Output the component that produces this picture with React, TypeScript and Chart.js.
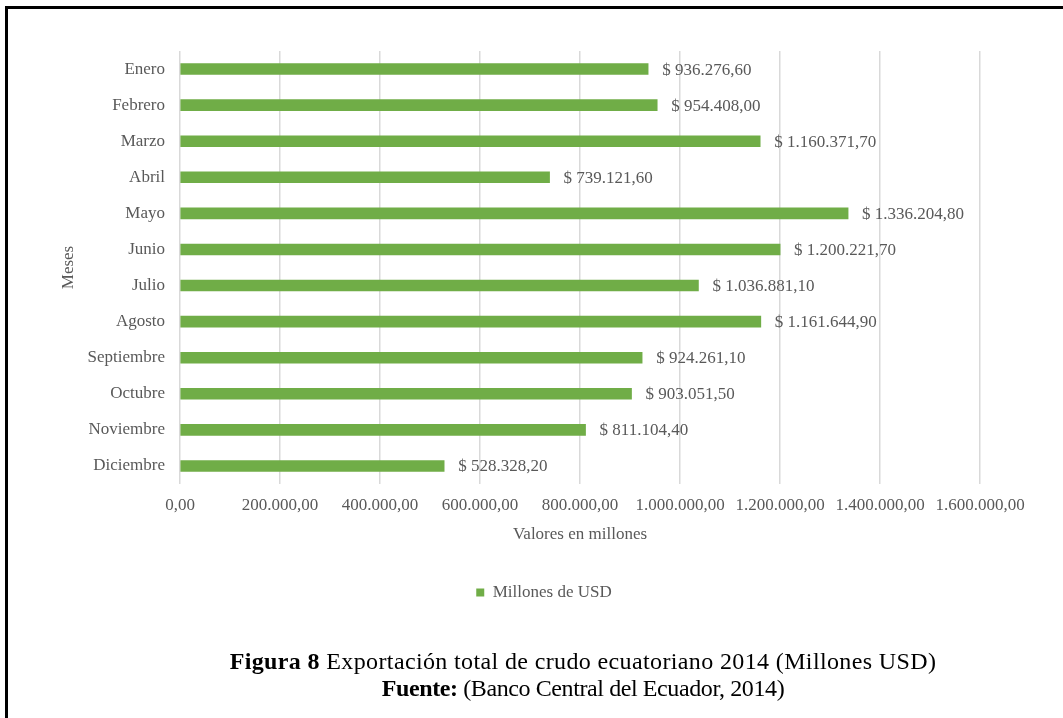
import React, { useEffect, useRef } from "react";
import { Chart, registerables } from "chart.js";

Chart.register(...registerables);

// ---- Data ----
const months: string[] = [
  "Enero",
  "Febrero",
  "Marzo",
  "Abril",
  "Mayo",
  "Junio",
  "Julio",
  "Agosto",
  "Septiembre",
  "Octubre",
  "Noviembre",
  "Diciembre",
];

const exportValues: number[] = [
  936276.6, 954408.0, 1160371.7, 739121.6, 1336204.8, 1200221.7, 1036881.1,
  1161644.9, 924261.1, 903051.5, 811104.4, 528328.2,
];

const seriesName = "Millones de USD";
const xAxisTitle = "Valores en millones";
const yAxisTitle = "Meses";
const xMin = 0;
const xMax = 1600000;
const xStep = 200000;

const captionBold1 = "Figura 8";
const captionText1 = " Exportación total de crudo ecuatoriano 2014 (Millones USD)";
const captionBold2 = "Fuente:";
const captionText2 = " (Banco Central del Ecuador, 2014)";

// ---- Styles ----
const SERIF = '"Liberation Serif", "Times New Roman", Times, serif';
const TEXT = "#595959";
const GREEN = "#70AD47";
const GRID = "#d9d9d9";

function fmt(v: number): string {
  const fixed = Math.abs(v).toFixed(2);
  const [intPart, dec] = fixed.split(".");
  const withDots = intPart.replace(/\B(?=(\d{3})+(?!\d))/g, ".");
  return (v < 0 ? "-" : "") + withDots + "," + dec;
}

const valueLabelPlugin = {
  id: "valueLabels",
  afterDatasetsDraw(chart: any) {
    const ctx = chart.ctx;
    const meta = chart.getDatasetMeta(0);
    const data = chart.data.datasets[0].data as number[];
    ctx.save();
    ctx.font = `17px ${SERIF}`;
    ctx.fillStyle = TEXT;
    ctx.textAlign = "left";
    ctx.textBaseline = "middle";
    meta.data.forEach((el: any, i: number) => {
      ctx.fillText("$ " + fmt(data[i]), el.x + 14, el.y + 1);
    });
    ctx.restore();
  },
};

const legendShiftPlugin = {
  id: "legendShift",
  afterLayout(chart: any) {
    const lg = chart.legend;
    if (lg) {
      lg.left += 54;
      lg.right += 54;
    }
  },
};

export default function App() {
  const canvasRef = useRef<HTMLCanvasElement | null>(null);

  useEffect(() => {
    if (!canvasRef.current) return;
    const font = { family: SERIF, size: 17 };
    const chart = new Chart(canvasRef.current, {
      type: "bar",
      data: {
        labels: months,
        datasets: [
          {
            label: seriesName,
            data: exportValues,
            backgroundColor: GREEN,
            borderWidth: 0,
            barThickness: 11,
          },
        ],
      },
      options: {
        indexAxis: "y",
        animation: false,
        responsive: false,
        maintainAspectRatio: false,
        devicePixelRatio: 1,
        layout: { padding: { left: 0, right: 83, top: 51, bottom: 0 } },
        scales: {
          x: {
            type: "linear",
            min: xMin,
            max: xMax,
            ticks: {
              stepSize: xStep,
              color: TEXT,
              font,
              padding: 11,
              maxRotation: 0,
              autoSkip: false,
              callback: (v: any) => fmt(Number(v)),
            },
            grid: { color: GRID, lineWidth: 1.5, drawTicks: false },
            border: { display: false },
            title: {
              display: true,
              text: xAxisTitle,
              color: TEXT,
              font,
              padding: { top: 0, bottom: 29 },
            },
            afterFit: (s: any) => {
              s.height = 90;
            },
          },
          y: {
            ticks: { color: TEXT, font, padding: 15, autoSkip: false },
            grid: { display: false, drawTicks: false },
            border: { display: false },
            title: {
              display: true,
              text: yAxisTitle,
              color: TEXT,
              font,
              padding: { top: 58, bottom: 0 },
            },
            afterFit: (s: any) => {
              s.width = 180;
            },
          },
        },
        plugins: {
          legend: {
            position: "bottom",
            labels: {
              boxWidth: 8,
              boxHeight: 8,
              color: TEXT,
              font,
              padding: 10,
            },
          },
          tooltip: { enabled: false },
        },
      } as any,
      plugins: [valueLabelPlugin, legendShiftPlugin],
    });
    return () => chart.destroy();
  }, []);

  return (
    <div
      style={{
        position: "absolute",
        left: 0,
        top: 0,
        width: 1063,
        height: 718,
        overflow: "hidden",
        background: "#fff",
      }}
    >
      <canvas
        ref={canvasRef}
        width={1063}
        height={611}
        style={{ position: "absolute", left: 0, top: 0, width: 1063, height: 611 }}
      />
      <div
        style={{
          position: "absolute",
          left: 5,
          top: 6,
          right: 0,
          bottom: 0,
          borderLeft: "3px solid #000",
          borderTop: "3px solid #000",
          pointerEvents: "none",
        }}
      />
      <div
        style={{
          position: "absolute",
          left: 183,
          top: 648,
          width: 800,
          textAlign: "center",
          fontFamily: SERIF,
          fontSize: 24,
          lineHeight: "27px",
          color: "#000",
          whiteSpace: "nowrap",
        }}
      >
        <div style={{ letterSpacing: "0.37px" }}>
          <b>{captionBold1}</b>
          {captionText1}
        </div>
        <div style={{ letterSpacing: "-0.4px" }}>
          <b>{captionBold2}</b>
          {captionText2}
        </div>
      </div>
    </div>
  );
}
